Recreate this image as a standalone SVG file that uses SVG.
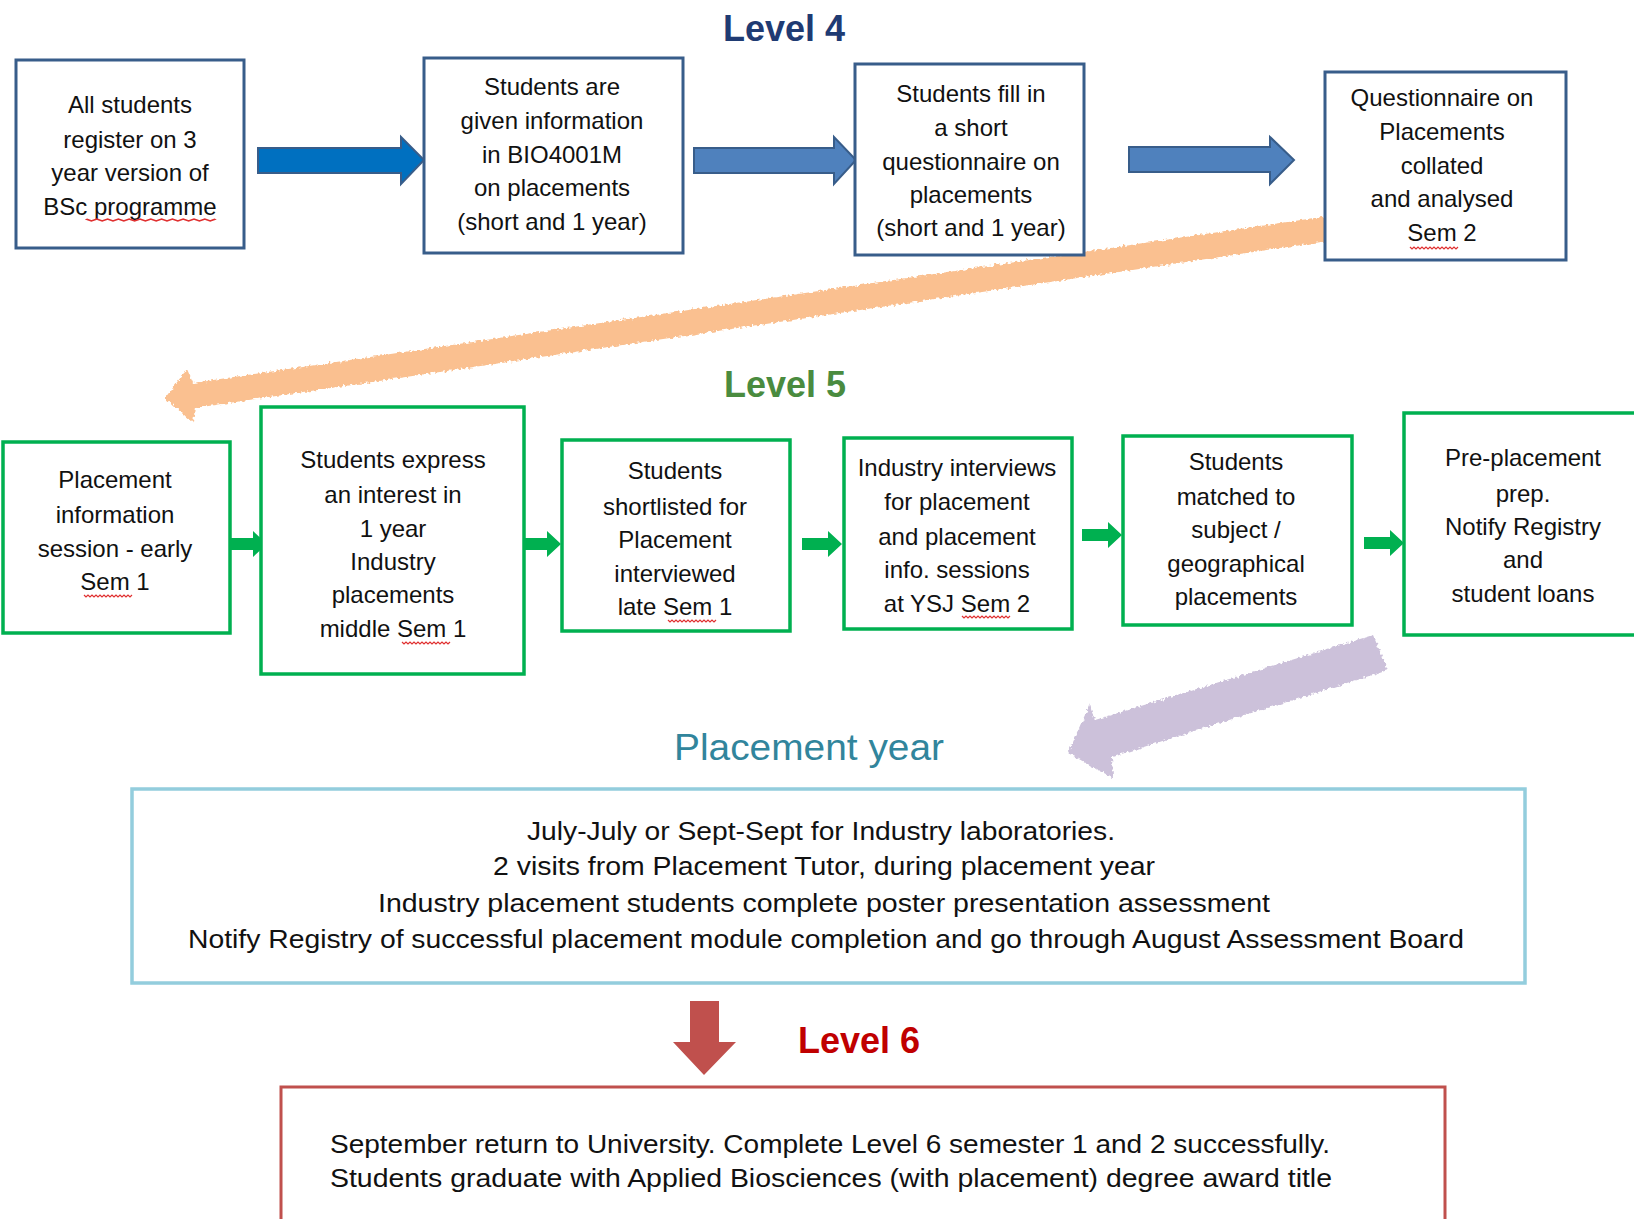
<svg xmlns="http://www.w3.org/2000/svg" width="1634" height="1219" viewBox="0 0 1634 1219">
<style>
.bx{fill:#fff;stroke:#385D8A;stroke-width:3}
.gb{fill:#fff;stroke:#00B050;stroke-width:3.5}
.t{font-family:"Liberation Sans",Arial,sans-serif;font-size:24px;fill:#111;text-anchor:middle}
.tl{font-family:"Liberation Sans",Arial,sans-serif;font-size:26px;fill:#111;text-anchor:middle}
.h{font-family:"Liberation Sans",Arial,sans-serif;font-size:36px;font-weight:bold;text-anchor:middle}
.sq{fill:none;stroke:#E03030;stroke-width:1.2}
.ga{fill:#00B050}
.ba{stroke:#385D8A;stroke-width:2}
</style>
<defs>
<filter id="rough" x="-5%" y="-30%" width="110%" height="160%">
<feTurbulence type="fractalNoise" baseFrequency="0.35" numOctaves="1" seed="4"/>
<feDisplacementMap in="SourceGraphic" scale="6" xChannelSelector="R" yChannelSelector="G"/>
</filter>
<path id="garrow" d="M0,-6 H26 V-13 L40,0 L26,13 V6 H0 Z"/>
<path id="squig" d="M0,0 l2,2 l2,-2 l2,2 l2,-2 l2,2 l2,-2 l2,2 l2,-2 l2,2 l2,-2 l2,2 l2,-2 l2,2 l2,-2 l2,2 l2,-2 l2,2 l2,-2 l2,2 l2,-2 l2,2 l2,-2 l2,2 l2,-2"/>
</defs>
<rect width="1634" height="1219" fill="#fff"/>

<g id="connectors">
<!-- orange sweep arrow Level 4 -> Level 5 -->
<polygon filter="url(#rough)" fill="#FAC090" points="1335,215 1335,240 195,408 193,423 165,398 187,369 193,383"/>
<!-- purple sweep arrow Level 5 -> Placement -->
<polygon filter="url(#rough)" fill="#CCC1DA" points="1373,635 1388,670 1112,757 1113,778 1068,753 1090,705 1095,720"/>
<!-- top blue arrows -->
<path class="ba" fill="#0070C0" d="M258,148 H401 V137 L424,160 L401,184 V173 H258 Z"/>
<path class="ba" fill="#4F81BD" d="M694,148 H834 V137 L856,160 L834,184 V173 H694 Z"/>
<path class="ba" fill="#4F81BD" d="M1129,147 H1270 V137 L1294,160 L1270,184 V172 H1129 Z"/>
<!-- green arrows -->
<use href="#garrow" class="ga" transform="translate(227,544)"/>
<use href="#garrow" class="ga" transform="translate(521,544)"/>
<use href="#garrow" class="ga" transform="translate(802,544)"/>
<use href="#garrow" class="ga" transform="translate(1082,535)"/>
<use href="#garrow" class="ga" transform="translate(1364,543)"/>
<!-- red down arrow -->
<path fill="#C0504D" d="M690,1001 H719 V1042 H736 L704,1075 L673,1042 H690 Z"/>
</g>

<g id="titles">
<text class="h" x="784" y="41" fill="#1F3B73">Level 4</text>
<text class="h" x="785" y="397" fill="#4A8B3F">Level 5</text>
<text x="809" y="760" font-family="'Liberation Sans',Arial,sans-serif" font-size="37" fill="#31859C" text-anchor="middle" textLength="270" lengthAdjust="spacingAndGlyphs">Placement year</text>
<text class="h" x="859" y="1053" fill="#C00000">Level 6</text>
</g>

<g id="n1">
<rect class="bx" x="16" y="60" width="228" height="188"/>
<text class="t" x="130" y="113">All students</text>
<text class="t" x="130" y="148">register on 3</text>
<text class="t" x="130" y="181">year version of</text>
<text class="t" x="130" y="215">BSc programme</text>
<use href="#squig" class="sq" transform="translate(86,219) scale(2.7,1)"/>
</g>
<g id="n2">
<rect class="bx" x="424" y="58" width="259" height="195"/>
<text class="t" x="552" y="95">Students are</text>
<text class="t" x="552" y="129">given information</text>
<text class="t" x="552" y="163">in BIO4001M</text>
<text class="t" x="552" y="196">on placements</text>
<text class="t" x="552" y="230">(short and 1 year)</text>
</g>
<g id="n3">
<rect class="bx" x="855" y="64" width="229" height="191"/>
<text class="t" x="971" y="102">Students fill in</text>
<text class="t" x="971" y="136">a short</text>
<text class="t" x="971" y="170">questionnaire on</text>
<text class="t" x="971" y="203">placements</text>
<text class="t" x="971" y="236">(short and 1 year)</text>
</g>
<g id="n4">
<rect class="bx" x="1325" y="72" width="241" height="188"/>
<text class="t" x="1442" y="106">Questionnaire on</text>
<text class="t" x="1442" y="140">Placements</text>
<text class="t" x="1442" y="174">collated</text>
<text class="t" x="1442" y="207">and analysed</text>
<text class="t" x="1442" y="241">Sem 2</text>
<use href="#squig" class="sq" transform="translate(1410,247)"/>
</g>

<g id="n5">
<rect class="gb" x="3" y="442" width="227" height="191"/>
<text class="t" x="115" y="488">Placement</text>
<text class="t" x="115" y="523">information</text>
<text class="t" x="115" y="557">session - early</text>
<text class="t" x="115" y="590">Sem 1</text>
<use href="#squig" class="sq" transform="translate(84,595)"/>
</g>
<g id="n6">
<rect class="gb" x="261" y="407" width="263" height="267"/>
<text class="t" x="393" y="468">Students express</text>
<text class="t" x="393" y="503">an interest in</text>
<text class="t" x="393" y="537">1 year</text>
<text class="t" x="393" y="570">Industry</text>
<text class="t" x="393" y="603">placements</text>
<text class="t" x="393" y="637">middle Sem 1</text>
<use href="#squig" class="sq" transform="translate(402,642)"/>
</g>
<g id="n7">
<rect class="gb" x="562" y="440" width="228" height="191"/>
<text class="t" x="675" y="479">Students</text>
<text class="t" x="675" y="515">shortlisted for</text>
<text class="t" x="675" y="548">Placement</text>
<text class="t" x="675" y="582">interviewed</text>
<text class="t" x="675" y="615">late Sem 1</text>
<use href="#squig" class="sq" transform="translate(668,620)"/>
</g>
<g id="n8">
<rect class="gb" x="844" y="438" width="228" height="191"/>
<text class="t" x="957" y="476">Industry interviews</text>
<text class="t" x="957" y="510">for placement</text>
<text class="t" x="957" y="545">and placement</text>
<text class="t" x="957" y="578">info. sessions</text>
<text class="t" x="957" y="612">at YSJ Sem 2</text>
<use href="#squig" class="sq" transform="translate(962,616)"/>
</g>
<g id="n9">
<rect class="gb" x="1123" y="436" width="229" height="189"/>
<text class="t" x="1236" y="470">Students</text>
<text class="t" x="1236" y="505">matched to</text>
<text class="t" x="1236" y="538">subject /</text>
<text class="t" x="1236" y="572">geographical</text>
<text class="t" x="1236" y="605">placements</text>
</g>
<g id="n10">
<rect class="gb" x="1404" y="413" width="240" height="222"/>
<text class="t" x="1523" y="466">Pre-placement</text>
<text class="t" x="1523" y="502">prep.</text>
<text class="t" x="1523" y="535">Notify Registry</text>
<text class="t" x="1523" y="568">and</text>
<text class="t" x="1523" y="602">student loans</text>
</g>

<g id="n11">
<rect x="132" y="789" width="1393" height="194" fill="#fff" stroke="#93CDDD" stroke-width="3.5"/>
<text class="tl" x="821" y="840" textLength="588" lengthAdjust="spacingAndGlyphs">July-July or Sept-Sept for Industry laboratories.</text>
<text class="tl" x="824" y="875" textLength="662" lengthAdjust="spacingAndGlyphs">2 visits from Placement Tutor, during placement year</text>
<text class="tl" x="824" y="912" textLength="892" lengthAdjust="spacingAndGlyphs">Industry placement students complete poster presentation assessment</text>
<text class="tl" x="826" y="948" textLength="1276" lengthAdjust="spacingAndGlyphs">Notify Registry of successful placement module completion and go through August Assessment Board</text>
</g>

<g id="n12">
<rect x="281" y="1087" width="1164" height="150" fill="#fff" stroke="#C0504D" stroke-width="3"/>
<text class="tl" x="830" y="1153" textLength="1000" lengthAdjust="spacingAndGlyphs">September return to University. Complete Level 6 semester 1 and 2 successfully.</text>
<text class="tl" x="831" y="1187" textLength="1002" lengthAdjust="spacingAndGlyphs">Students graduate with Applied Biosciences (with placement) degree award title</text>
</g>
</svg>
